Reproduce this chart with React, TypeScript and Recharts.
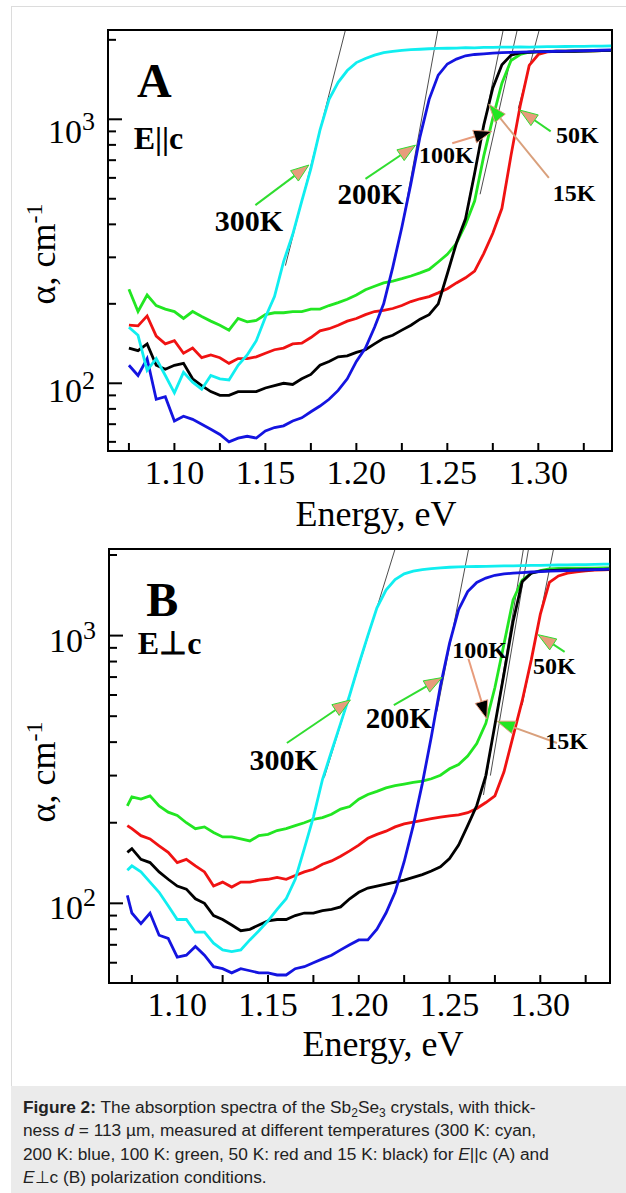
import React from 'react';
import { LineChart, Line, XAxis, YAxis, ReferenceLine, ReferenceDot, ReferenceArea } from 'recharts';

// ---- panel A (E || c) ----
const energyA = [
  1.075, 1.08, 1.085, 1.09, 1.095, 1.1, 1.105, 1.11, 1.115, 1.12,
  1.125, 1.13, 1.135, 1.14, 1.145, 1.15, 1.155, 1.16, 1.165, 1.17,
  1.175, 1.18, 1.185, 1.19, 1.195, 1.2, 1.205, 1.21, 1.215, 1.22,
  1.225, 1.23, 1.235, 1.24, 1.245, 1.25, 1.255, 1.26, 1.265, 1.27,
  1.275, 1.28, 1.285, 1.29, 1.295, 1.3, 1.305, 1.31, 1.315, 1.32,
  1.325, 1.33, 1.335, 1.34,
];
const cyanA = [
  163, 152, 112, 124, 107, 92, 110, 101, 95, 107,
  104, 103, 117, 128, 145, 178, 213, 289, 366, 490,
  650, 910, 1190, 1380, 1530, 1640, 1700, 1750, 1790, 1810,
  1825, 1835, 1842, 1850, 1855, 1858, 1862, 1868, 1866, 1872,
  1874, 1876, 1878, 1880, 1878, 1882, 1885, 1884, 1887, 1890,
  1889, 1892, 1894, 1896,
];
const blueA = [
  117, 107, 124, 87, 89, 72, 75, 73, 70, 67,
  64, 60, 62, 63, 62, 66, 68, 69, 72, 74,
  78, 82, 87, 94, 104, 121, 136, 163, 200, 275,
  390, 572, 860, 1190, 1470, 1620, 1690, 1740, 1760, 1770,
  1780, 1788, 1792, 1798, 1800, 1805, 1806, 1810, 1812, 1815,
  1818, 1822, 1826, 1830,
];
const blackA = [
  136, 133, 141, 117, 113, 117, 119, 104, 98, 93,
  90, 90, 93, 93, 93, 96, 98, 100, 99, 104,
  108, 117, 121, 126, 127, 131, 134, 141, 148, 152,
  159, 166, 175, 182, 200, 260, 340, 420, 625, 950,
  1315, 1610, 1750, 1785, 1795, 1800, 1803, 1806, 1808, 1810,
  1813, 1816, 1820, 1824,
];
const greenA = [
  227, 187, 216, 197, 191, 187, 176, 187, 179, 172,
  166, 159, 176, 171, 173, 182, 185, 185, 187, 187,
  191, 191, 197, 202, 208, 216, 226, 233, 240, 244,
  249, 255, 262, 270, 288, 308, 339, 400, 490, 725,
  1010, 1370, 1670, 1760, 1795, 1805, 1808, 1810, 1812, 1814,
  1816, 1818, 1820, 1822,
];
const redA = [
  166, 165, 180, 151, 141, 145, 130, 136, 125, 128,
  125, 119, 124, 124, 126, 130, 134, 136, 141, 142,
  149, 158, 161, 166, 172, 176, 182, 187, 189, 192,
  197, 204, 209, 213, 220, 228, 240, 251, 266, 310,
  370, 460, 730, 1120, 1600, 1760, 1800, 1810, 1812, 1815,
  1817, 1818, 1820, 1822,
];

// ---- panel B (E perp c) ----
const energyB = [
  1.0725, 1.075, 1.08, 1.085, 1.09, 1.095, 1.1, 1.105, 1.11, 1.115,
  1.12, 1.125, 1.13, 1.135, 1.14, 1.145, 1.15, 1.155, 1.16, 1.165,
  1.17, 1.175, 1.18, 1.185, 1.19, 1.195, 1.2, 1.205, 1.21, 1.215,
  1.22, 1.225, 1.23, 1.235, 1.24, 1.245, 1.25, 1.255, 1.26, 1.265,
  1.27, 1.275, 1.28, 1.285, 1.29, 1.295, 1.3, 1.305, 1.31, 1.315,
  1.32, 1.325, 1.33, 1.335, 1.338,
];
const cyanB = [
  133, 138, 131, 120, 110, 98, 87, 87, 78, 78,
  71, 67, 66, 67, 73, 79, 86, 95, 104, 123,
  160, 210, 290, 370, 470, 600, 780, 1000, 1270, 1480,
  1620, 1700, 1740, 1765, 1780, 1790, 1800, 1805, 1810, 1812,
  1815, 1818, 1820, 1822, 1825, 1828, 1830, 1832, 1835, 1838,
  1840, 1842, 1845, 1848, 1850,
];
const blueB = [
  107, 92, 84, 92, 76, 74, 63, 64, 69, 64,
  58, 57, 55, 57, 56, 55, 55, 54, 54, 57,
  58, 60, 62, 64, 67, 70, 73, 73, 80, 92,
  110, 143, 195, 280, 420, 650, 935, 1250, 1460, 1580,
  1640, 1680, 1700, 1710, 1720, 1728, 1735, 1740, 1745, 1750,
  1755, 1760, 1765, 1768, 1770,
];
const blackB = [
  155, 160, 146, 142, 131, 123, 116, 113, 104, 100,
  90, 87, 83, 79, 80, 83, 86, 87, 87, 90,
  92, 92, 94, 95, 97, 104, 110, 114, 116, 118,
  120, 122, 125, 128, 132, 137, 147, 165, 195, 232,
  300, 465, 720, 1127, 1590, 1710, 1740, 1750, 1755, 1758,
  1760, 1762, 1765, 1768, 1770,
];
const greenB = [
  231, 250, 245, 252, 231, 219, 213, 200, 190, 193,
  184, 177, 177, 174, 171, 179, 181, 187, 190, 195,
  200, 206, 209, 215, 225, 230, 245, 255, 262, 270,
  275, 279, 283, 286, 292, 301, 318, 330, 355, 395,
  470, 640, 930, 1360, 1610, 1710, 1750, 1775, 1782, 1785,
  1786, 1787, 1788, 1789, 1790,
];
const redB = [
  195, 190, 179, 174, 164, 155, 142, 146, 138, 131,
  116, 120, 115, 120, 120, 122, 123, 125, 123, 127,
  131, 134, 140, 144, 150, 157, 165, 175, 181, 186,
  193, 198, 201, 204, 207, 210, 212, 214, 218, 226,
  238, 252, 310, 420, 570, 810, 1200, 1580, 1670, 1710,
  1730, 1745, 1755, 1760, 1765,
];

const xTicks = [1.075, 1.1, 1.125, 1.15, 1.175, 1.2, 1.225, 1.25, 1.275, 1.3, 1.325];
const yTicks = [60, 70, 80, 90, 100, 200, 300, 400, 500, 600, 700, 800, 900, 1000, 2000];

// thin extrapolation lines: [E low, alpha low, E top]
const tangentsA = [
  [1.161, 279, 1.194],
  [1.2253, 400, 1.2448],
  [1.262, 500, 1.2807],
  [1.268, 520, 1.2884],
  [1.289, 1100, 1.3005],
];
const tangentsB = [
  [1.181, 295, 1.22],
  [1.243, 520, 1.2605],
  [1.2687, 254, 1.2907],
  [1.2725, 300, 1.2935],
  [1.29, 550, 1.3073],
];

const SERIF = '"Liberation Serif", "Times New Roman", serif';
const CYAN = '#10eef0';
const BLUE = '#1414e0';
const GREEN = '#22e622';
const RED = '#f01212';
const ARROW_GREEN = '#30dd30';
const SALMON = '#e89c7c';
const TAN = '#d9a07c';

// arrows: from (E, alpha) -> to (E, alpha), line colour, head colour
const arrowsA = [
  { from: [1.1445, 473], to: [1.1739, 671], line: ARROW_GREEN, head: SALMON },
  { from: [1.205, 595], to: [1.2325, 798], line: ARROW_GREEN, head: SALMON },
  { from: [1.2527, 811], to: [1.2745, 900], line: SALMON, head: '#000' },
  { from: [1.3058, 600], to: [1.2728, 1140], line: TAN, head: GREEN },
  { from: [1.3068, 900], to: [1.2898, 1084], line: ARROW_GREEN, head: SALMON },
];
const arrowsB = [
  { from: [1.1604, 397], to: [1.1954, 575], line: ARROW_GREEN, head: SALMON },
  { from: [1.2193, 550], to: [1.2459, 697], line: ARROW_GREEN, head: SALMON },
  { from: [1.2604, 820], to: [1.2705, 489], line: SALMON, head: '#000' },
  { from: [1.3092, 397], to: [1.2761, 479], line: TAN, head: GREEN },
  { from: [1.3134, 870], to: [1.2988, 1008], line: ARROW_GREEN, head: SALMON },
];

const notesA = [
  { text: 'A', at: [1.089, 1401], size: 48, anchor: 'middle' },
  { text: 'E||c', at: [1.0776, 848], size: 32, anchor: 'start' },
  { text: '300K', at: [1.1409, 413], size: 30, anchor: 'middle' },
  { text: '200K', at: [1.2078, 521], size: 29, anchor: 'middle' },
  { text: '100K', at: [1.2495, 735], size: 24, anchor: 'middle' },
  { text: '50K', at: [1.3214, 873], size: 24, anchor: 'middle' },
  { text: '15K', at: [1.3196, 525], size: 24, anchor: 'middle' },
];
const notesB = [
  { text: 'B', at: [1.0917, 1359], size: 48, anchor: 'middle' },
  { text: 'E\u22A5c', at: [1.0783, 937], size: 32, anchor: 'start' },
  { text: '300K', at: [1.1586, 343], size: 30, anchor: 'middle' },
  { text: '200K', at: [1.222, 490], size: 29, anchor: 'middle' },
  { text: '100K', at: [1.2665, 885], size: 24, anchor: 'middle' },
  { text: '50K', at: [1.3077, 773], size: 24, anchor: 'middle' },
  { text: '15K', at: [1.3145, 403], size: 24, anchor: 'middle' },
];

function XTick(props: any) {
  const { x, y, payload, top } = props;
  const major = Math.round(payload.value * 1000) % 50 === 0;
  return (
    <g>
      <line x1={x} x2={x} y1={y} y2={top ? y + 8 : y - 8} stroke="#000" strokeWidth={2} />
      {!top && major && (
        <text x={x} y={y + 33} textAnchor="middle" fontSize={34} fontFamily={SERIF} fill="#000">
          {payload.value.toFixed(2)}
        </text>
      )}
    </g>
  );
}

function YTick(props: any) {
  const { x, y, payload, offsets } = props;
  const v = payload.value;
  const major = v === 100 || v === 1000;
  const base = y + (v === 1000 ? offsets[0] : offsets[1]);
  return (
    <g>
      <line x1={x} x2={x + (major ? 14 : 8)} y1={y} y2={y} stroke="#000" strokeWidth={2} />
      {major && (
        <>
          <text x={x - 26} y={base} textAnchor="end" fontSize={34} fontFamily={SERIF} fill="#000">10</text>
          <text x={x - 26} y={base - 13} textAnchor="start" fontSize={26} fontFamily={SERIF} fill="#000">
            {v === 100 ? '2' : '3'}
          </text>
        </>
      )}
    </g>
  );
}

const arrowShape = (lineColor: string, headColor: string) => (p: any) => {
  const { x1, y1, x2, y2 } = p;
  const ang = Math.atan2(y2 - y1, x2 - x1);
  const L = 18;
  const W = 6.5;
  const bx = x2 - L * Math.cos(ang);
  const by = y2 - L * Math.sin(ang);
  const nx = -Math.sin(ang) * W;
  const ny = Math.cos(ang) * W;
  return (
    <g>
      <line x1={x1} y1={y1} x2={bx} y2={by} stroke={lineColor} strokeWidth={2} />
      <polygon
        points={`${x2},${y2} ${bx + nx},${by + ny} ${bx - nx},${by - ny}`}
        fill={headColor}
        stroke={lineColor}
        strokeWidth={1}
      />
    </g>
  );
};

const textShape = (text: string, size: number, anchor: string) => (p: any) => (
  <text
    x={p.cx}
    y={p.cy + size * 0.34}
    textAnchor={anchor}
    fontSize={size}
    fontWeight="bold"
    fontFamily={SERIF}
    fill="#000"
  >
    {text}
  </text>
);

function Panel(props: any) {
  const { energy, series, xDomain, yDomain, margin, yWidth, offsets, tangents, arrows, notes } = props;
  const rows = energy.map((e: number, i: number) => ({
    e,
    cyan: series.cyan[i],
    blue: series.blue[i],
    black: series.black[i],
    green: series.green[i],
    red: series.red[i],
  }));
  return (
    <LineChart width={626} height={540} data={rows} margin={margin}>
      <XAxis
        dataKey="e"
        type="number"
        domain={xDomain}
        allowDataOverflow
        ticks={xTicks}
        interval={0}
        height={60}
        tickSize={0}
        tickMargin={0}
        axisLine={false}
        tickLine={false}
        tick={(p: any) => <XTick {...p} />}
      />
      <XAxis
        xAxisId="top"
        orientation="top"
        dataKey="e"
        type="number"
        domain={xDomain}
        allowDataOverflow
        ticks={xTicks}
        interval={0}
        height={0}
        tickSize={0}
        tickMargin={0}
        axisLine={false}
        tickLine={false}
        tick={(p: any) => <XTick {...p} top />}
      />
      <YAxis
        type="number"
        scale="log"
        domain={yDomain}
        allowDataOverflow
        ticks={yTicks}
        interval={0}
        width={yWidth}
        tickSize={0}
        tickMargin={0}
        axisLine={false}
        tickLine={false}
        tick={(p: any) => <YTick {...p} offsets={offsets} />}
      />
      {tangents.map((t: number[], i: number) => (
        <ReferenceLine
          key={`t${i}`}
          segment={[{ x: t[0], y: t[1] }, { x: t[2], y: yDomain[1] }]}
          stroke="#000"
          strokeWidth={0.7}
          ifOverflow="visible"
        />
      ))}
      <Line dataKey="red" stroke={RED} strokeWidth={2.8} dot={false} type="linear" isAnimationActive={false} />
      <Line dataKey="green" stroke={GREEN} strokeWidth={2.8} dot={false} type="linear" isAnimationActive={false} />
      <Line dataKey="black" stroke="#000" strokeWidth={2.8} dot={false} type="linear" isAnimationActive={false} />
      <Line dataKey="blue" stroke={BLUE} strokeWidth={2.8} dot={false} type="linear" isAnimationActive={false} />
      <Line dataKey="cyan" stroke={CYAN} strokeWidth={2.8} dot={false} type="linear" isAnimationActive={false} />
      {arrows.map((a: any, i: number) => (
        <ReferenceLine
          key={`a${i}`}
          segment={[{ x: a.from[0], y: a.from[1] }, { x: a.to[0], y: a.to[1] }]}
          ifOverflow="visible"
          shape={arrowShape(a.line, a.head)}
        />
      ))}
      {notes.map((n: any, i: number) => (
        <ReferenceDot
          key={`n${i}`}
          x={n.at[0]}
          y={n.at[1]}
          r={1}
          ifOverflow="visible"
          shape={textShape(n.text, n.size, n.anchor)}
        />
      ))}
      <ReferenceArea
        x1={xDomain[0]}
        x2={xDomain[1]}
        y1={yDomain[0]}
        y2={yDomain[1]}
        fill="none"
        fillOpacity={0}
        stroke="#000"
        strokeWidth={2}
        ifOverflow="visible"
      />
    </LineChart>
  );
}

export default function App() {
  return (
    <div style={{ position: 'absolute', left: 0, top: 0, width: 626, height: 1193, overflow: 'hidden', background: '#fff' }}>
      <div
        style={{
          position: 'absolute',
          left: 11,
          top: 6,
          width: 615,
          height: 1187,
          borderLeft: '1px solid #dcdcdc',
          borderTop: '1px solid #dcdcdc',
          boxSizing: 'border-box',
        }}
      />
      <div style={{ position: 'absolute', left: 0, top: 0 }}>
        <Panel
          energy={energyA}
          series={{ cyan: cyanA, blue: blueA, black: blackA, green: greenA, red: redA }}
          xDomain={[1.0635, 1.3405]}
          yDomain={[55.4, 2179]}
          margin={{ top: 30, right: 14, bottom: 29, left: 0 }}
          yWidth={108}
          offsets={[24, 19]}
          tangents={tangentsA}
          arrows={arrowsA}
          notes={notesA}
        />
      </div>
      <div style={{ position: 'absolute', left: 0, top: 540 }}>
        <Panel
          energy={energyB}
          series={{ cyan: cyanB, blue: blueB, black: blackB, green: greenB, red: redB }}
          xDomain={[1.0624, 1.3384]}
          yDomain={[50.4, 2106]}
          margin={{ top: 9, right: 16, bottom: 37, left: 0 }}
          yWidth={109}
          offsets={[16, 16]}
          tangents={tangentsB}
          arrows={arrowsB}
          notes={notesB}
        />
      </div>
      <svg
        width={626}
        height={1193}
        style={{ position: 'absolute', left: 0, top: 0, pointerEvents: 'none' }}
      >
        <text x={376} y={526} textAnchor="middle" fontSize={36} fontFamily={SERIF} fill="#000">Energy, eV</text>
        <text x={383} y={1056} textAnchor="middle" fontSize={36} fontFamily={SERIF} fill="#000">Energy, eV</text>
        <text x={55} y={254} transform="rotate(-90, 55, 254)" textAnchor="middle" fontSize={36} fontFamily={SERIF} fill="#000">
          {'\u03B1, cm'}
          <tspan dy={-13} fontSize={24}>-1</tspan>
        </text>
        <text x={55} y={772} transform="rotate(-90, 55, 772)" textAnchor="middle" fontSize={36} fontFamily={SERIF} fill="#000">
          {'\u03B1, cm'}
          <tspan dy={-13} fontSize={24}>-1</tspan>
        </text>
      </svg>
      <div
        style={{
          position: 'absolute',
          left: 11,
          top: 1086,
          width: 615,
          height: 107,
          background: '#ebebeb',
          boxSizing: 'border-box',
          padding: '10px 0 0 12px',
          fontFamily: '"Liberation Sans", Arial, sans-serif',
          fontSize: 17.3,
          lineHeight: '23.3px',
          color: '#222',
          whiteSpace: 'nowrap',
        }}
      >
        <div><b>Figure 2:</b> The absorption spectra of the Sb<sub style={{ fontSize: 12, lineHeight: 0 }}>2</sub>Se<sub style={{ fontSize: 12, lineHeight: 0 }}>3</sub> crystals, with thick-</div>
        <div>ness <i>d</i> = 113 µm, measured at different temperatures (300 K: cyan,</div>
        <div>200 K: blue, 100 K: green, 50 K: red and 15 K: black) for <i>E</i>||c (A) and</div>
        <div><i>E</i>{'\u22A5'}c (B) polarization conditions.</div>
      </div>
    </div>
  );
}
